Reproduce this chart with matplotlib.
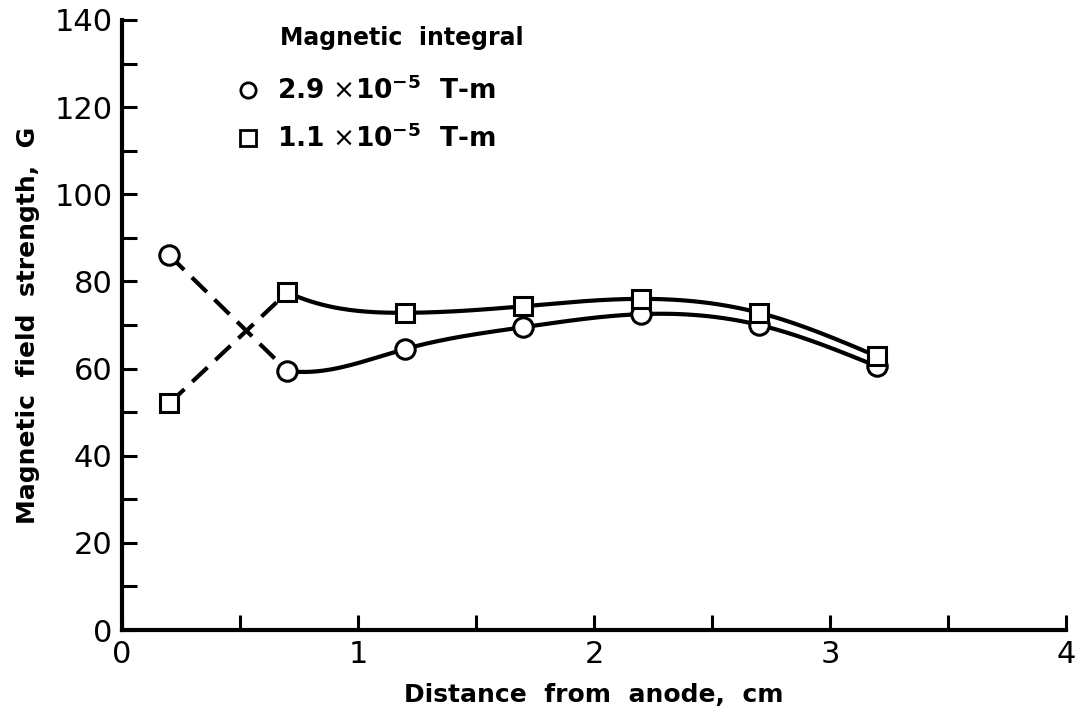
import numpy as np
import matplotlib
matplotlib.use("Agg")
import matplotlib.pyplot as plt
from matplotlib.lines import Line2D

# ---- data ----
distance = [0.2, 0.7, 1.2, 1.7, 2.2, 2.7, 3.2]
field_29 = [86.0, 59.5, 64.5, 69.5, 72.5, 70.0, 60.5]   # 2.9e-5 T-m (circles)
field_11 = [52.0, 77.5, 72.8, 74.3, 76.0, 72.8, 62.8]   # 1.1e-5 T-m (squares)
legend_labels = [r"2.9 $\times$10$^{\mathbf{-5}}$  T-m", r"1.1 $\times$10$^{\mathbf{-5}}$  T-m"]
legend_title = "Magnetic  integral"
xlabel = "Distance  from  anode,  cm"
ylabel = "Magnetic  field  strength,  G"
xtick_major = [0, 1, 2, 3, 4]
ytick_major = [0, 20, 40, 60, 80, 100, 120, 140]


def spline(x, y, n=200, start_slope=None):
    x = np.asarray(x, float); y = np.asarray(y, float)
    m = len(x); h = np.diff(x)
    A = np.zeros((m, m)); b = np.zeros(m)
    if start_slope is None:
        A[0, 0] = 1
    else:
        A[0, 0] = 2 * h[0]; A[0, 1] = h[0]
        b[0] = 3 * ((y[1] - y[0]) / h[0] - start_slope)
    A[-1, -1] = 1
    for i in range(1, m - 1):
        A[i, i - 1] = h[i - 1]; A[i, i] = 2 * (h[i - 1] + h[i]); A[i, i + 1] = h[i]
        b[i] = 3 * ((y[i + 1] - y[i]) / h[i] - (y[i] - y[i - 1]) / h[i - 1])
    c = np.linalg.solve(A, b)
    xs = np.linspace(x[0], x[-1], n); ys = np.empty_like(xs)
    for k, xv in enumerate(xs):
        i = min(np.searchsorted(x, xv, side="right") - 1, m - 2)
        dx = xv - x[i]
        bi = (y[i + 1] - y[i]) / h[i] - h[i] * (2 * c[i] + c[i + 1]) / 3
        di = (c[i + 1] - c[i]) / (3 * h[i])
        ys[k] = y[i] + bi * dx + c[i] * dx ** 2 + di * dx ** 3
    return xs, ys


plt.rcParams['font.family'] = ['DejaVu Sans']
fig = plt.figure(figsize=(10.81, 7.24), dpi=100)
ax = fig.add_axes([0.1129, 0.1298, 0.8733, 0.8426])

lw = 3.0
for yvals, mk, ms, s0 in [(field_29, 'o', 14, -8.0), (field_11, 's', 13.5, -25.0)]:
    ax.plot(distance[:2], yvals[:2], color='black', lw=lw, dashes=(5, 2.6), zorder=2)
    xs, ys = spline(distance[1:], yvals[1:], start_slope=s0)
    ax.plot(xs, ys, color='black', lw=lw, zorder=2, solid_capstyle='butt')
    ax.plot(distance, yvals, linestyle='none', marker=mk, ms=ms, mfc='white',
            mec='black', mew=2.2, zorder=3)

ax.set_xlim(0, 4)
ax.set_ylim(0, 140)
for s in ['top', 'right']:
    ax.spines[s].set_visible(False)
for s in ['left', 'bottom']:
    ax.spines[s].set_linewidth(3)

xt = np.arange(0, 4.01, 0.5)
ax.set_xticks(xt)
ax.set_xticklabels([str(int(v)) if v in xtick_major else '' for v in xt])
yt = np.arange(0, 141, 10)
ax.set_yticks(yt)
ax.set_yticklabels([str(int(v)) if v in ytick_major else '' for v in yt])
ax.tick_params(direction='in', length=11, width=2.2, labelsize=22, pad=7)

ax.set_xlabel(xlabel, fontsize=18, fontweight='bold', labelpad=10)
ax.set_ylabel(ylabel, fontsize=18, fontweight='bold', labelpad=10)

ax.text(0.167, 0.97, legend_title, transform=ax.transAxes, fontsize=17,
        fontweight='bold', va='center', ha='left')
handles = [Line2D([], [], linestyle='none', marker='o', ms=11, mfc='white', mec='black', mew=2.0),
           Line2D([], [], linestyle='none', marker='s', ms=11, mfc='white', mec='black', mew=2.0)]
leg = ax.legend(handles, legend_labels, loc='upper left', bbox_to_anchor=(0.108, 0.925),
                frameon=False, handletextpad=0.6, labelspacing=0.75,
                borderaxespad=0, handlelength=1.0, prop={'size': 19, 'weight': 'bold'})

fig.savefig("out.png", dpi=100)
